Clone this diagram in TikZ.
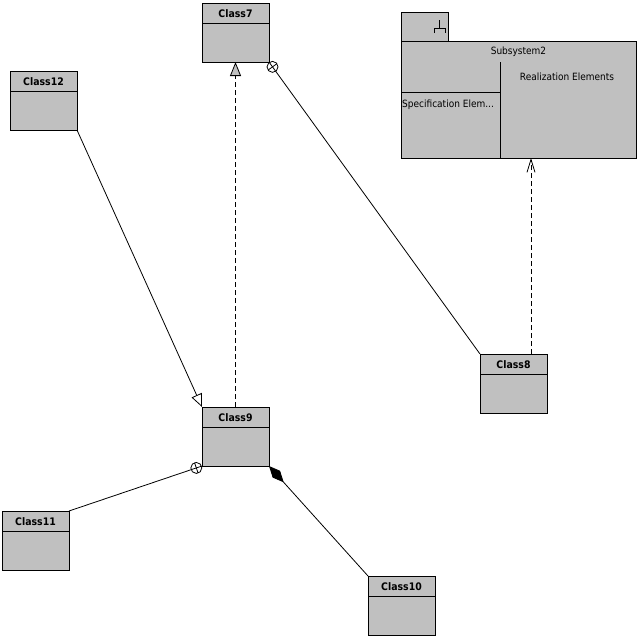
\documentclass[tikz,border=0pt]{standalone}
\usepackage{fontspec}
\setmainfont{DejaVu Sans Condensed}
\usetikzlibrary{arrows.meta,calc}
\definecolor{boxgray}{HTML}{C0C0C0}
\tikzset{
  classbox/.style={draw=black, fill=boxgray, line width=0.9pt, minimum width=67pt, minimum height=59pt, inner sep=0pt, outer sep=0pt, anchor=north west},
  pkgbox/.style={draw=black, fill=boxgray, line width=0.9pt, inner sep=0pt, outer sep=0pt, anchor=north west},
  classname/.style={font=\bfseries\fontsize{10.4}{12}\selectfont, inner sep=0pt},
  plaintext/.style={font=\fontsize{10}{12}\selectfont, inner sep=0pt},
  conn/.style={draw=black, line width=0.8pt},
  dashedconn/.style={conn, dash pattern=on 5pt off 3pt},
}
\newcommand\umlclass[4]{%
  \node[classbox] (#1) at (#2,#3) {};
  \draw[line width=0.9pt] ([yshift=-20pt]#1.north west) -- ([yshift=-20pt]#1.north east);
  \node[classname] (#1-label) at ([yshift=-10.5pt]#1.north) {#4};
}
\begin{document}
\begin{tikzpicture}[x=1pt,y=-1pt]
\useasboundingbox (0,0) rectangle (640,640);

% classes
\umlclass{c7}{202}{3}{Class7}
\umlclass{c12}{10}{71}{Class12}
\umlclass{c9}{202}{407}{Class9}
\umlclass{c10}{368}{576}{Class10}
\umlclass{c8}{480}{354}{Class8}
\umlclass{c11}{2}{511}{Class11}

% subsystem
\node[pkgbox, minimum width=47pt, minimum height=29pt] (tab) at (401,12) {};
\node[pkgbox, minimum width=235pt, minimum height=117pt] (sub) at (401,41) {};
\draw[line width=0.9pt] ([xshift=99pt]sub.south west) -- ([xshift=99pt,yshift=-21pt]sub.north west);
\draw[line width=0.9pt] ([yshift=-51pt]sub.north west) -- ([xshift=99pt,yshift=-51pt]sub.north west);
\node[plaintext] (subname) at ([yshift=-11pt]sub.north) {Subsystem2};
\node[plaintext] (real) at (567,77) {Realization Elements};
\node[plaintext, anchor=west] (spec) at (402,105) {Specification Elem...};
\draw[line width=0.9pt] (439,20) -- (439,28) (434,33) -- (434,28) -- (445,28) -- (445,33);

% generalization Class12 -> Class9
\draw[conn, -{Triangle[open, length=13pt, width=11pt]}] (c12.south east) -- (c9.north west);

% realization Class9 -> Class7
\draw[dashedconn, -{Triangle[length=14pt, width=11pt, fill=boxgray]}] (c9.north) -- (c7.south);

% containment Class7 -- Class8
\draw[conn] (c7.south east) -- (c8.north west);
\coordinate (k1) at ($(c7.south east)!6pt!(c8.north west)$);
\draw[conn] (k1) circle (5.5pt);
\draw[conn] ($(k1)!5.5pt!90:(c8.north west)$) -- ($(k1)!5.5pt!-90:(c8.north west)$);

% containment Class11 -- Class9
\draw[conn] (c11.north east) -- (c9.south west);
\coordinate (k2) at ($(c9.south west)!6pt!(c11.north east)$);
\draw[conn] (k2) circle (5.5pt);
\draw[conn] ($(k2)!5.5pt!90:(c11.north east)$) -- ($(k2)!5.5pt!-90:(c11.north east)$);

% composition Class9 <>-- Class10
\draw[conn, {Diamond[length=22pt, width=10pt]}-] (c9.south east) -- (c10.north west);

% dependency Class8 -> Subsystem2
\draw[dashedconn, -{Straight Barb[length=13pt, width=8pt]}] ([xshift=17.5pt]c8.north) -- ([xshift=17.5pt]c8.north |- sub.south);
\end{tikzpicture}
\end{document}
